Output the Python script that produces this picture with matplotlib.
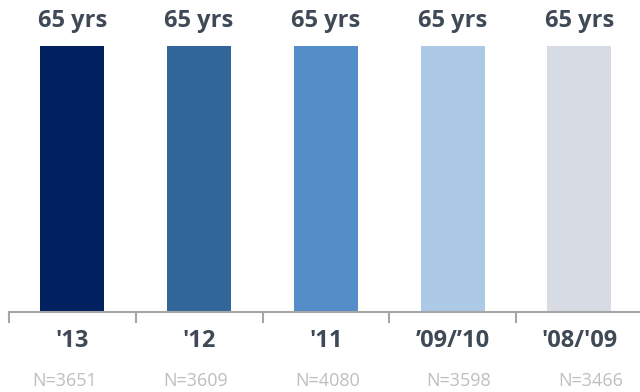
import matplotlib
matplotlib.use("Agg")
import matplotlib.pyplot as plt
from matplotlib.ticker import FixedLocator, NullFormatter

categories = ["'13", "'12", "'11", "\u201909/\u201910", "'08/'09"]
values = [65, 65, 65, 65, 65]
value_labels = ["65 yrs"] * 5
n_labels = ["N=3651", "N=3609", "N=4080", "N=3598", "N=3466"]
colors = ["#00205F", "#31669B", "#548DC8", "#ACC9E5", "#D6DBE4"]

plt.rcParams['font.family'] = ['Open Sans', 'DejaVu Sans']

W, H = 640, 392
fig = plt.figure(figsize=(W / 100, H / 100), dpi=100)
left_px, right_px = 9, 9 + 5 * 126.75
bottom_px, top_px = 312, 46
ax = fig.add_axes([left_px / W, (H - bottom_px) / H, (right_px - left_px) / W, (bottom_px - top_px) / H])
ax.set_xlim(-0.5, 4.5)
ax.set_ylim(0, 65)

x = list(range(len(categories)))
ax.bar(x, values, width=0.505, color=colors, zorder=2)

text_col = "#3F4A56"
for xi, v, lab in zip(x, values, value_labels):
    ax.annotate(lab, (xi, v), xytext=(0, 18), textcoords="offset points", ha="center", va="center",
                fontsize=17, fontweight="bold", color=text_col, annotation_clip=False)

for s in ["top", "right", "left"]:
    ax.spines[s].set_visible(False)
ax.spines["bottom"].set_color("#A6A6A6")
ax.spines["bottom"].set_linewidth(1.5)
ax.set_yticks([])

ax.xaxis.set_major_locator(FixedLocator([i - 0.5 for i in range(len(categories) + 1)]))
ax.xaxis.set_major_formatter(NullFormatter())
ax.tick_params(axis="x", which="major", length=8, width=1.5, color="#A6A6A6", direction="out")
ax.set_xticks(x, minor=True)
ax.set_xticklabels(categories, minor=True, fontsize=17, fontweight="bold", color=text_col)
ax.tick_params(axis="x", which="minor", length=0, pad=12)

# N labels below
for i, lab in enumerate(n_labels):
    ax.annotate(lab, (i * 1.0375 - 0.063, 0), xytext=(0, -50), textcoords="offset points",
                ha="center", va="center", fontsize=13, color="#BFBFBF", annotation_clip=False)

fig.savefig("out.png", dpi=100)
